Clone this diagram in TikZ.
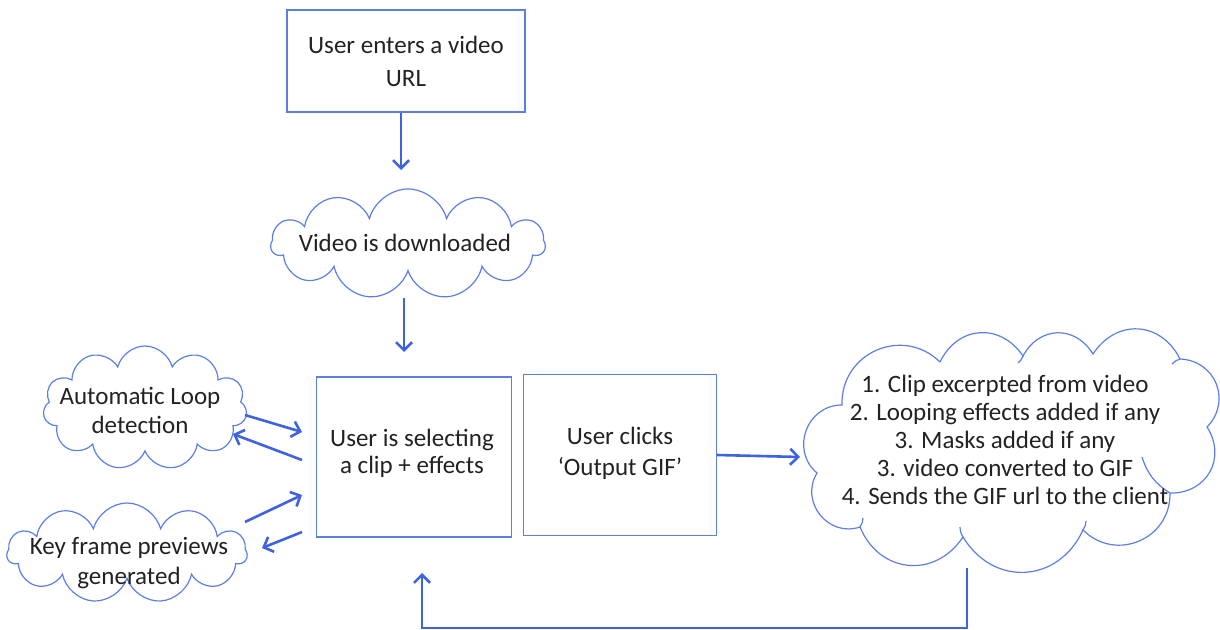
\documentclass[tikz,border=0pt]{standalone}
\usepackage{fontspec}
\setmainfont{Carlito}
\usetikzlibrary{shapes.symbols,arrows.meta}
\definecolor{edge}{HTML}{5B7FE6}
\definecolor{arr}{HTML}{3F63E0}
\definecolor{txt}{HTML}{222222}
\tikzset{
  box/.style={draw=edge, line width=0.6pt, align=center, text=txt, font=\fontsize{12.5}{14.5}\selectfont},
  cloudbox/.style={cloud, cloud puffs=11, cloud ignores aspect, draw=edge, line width=0.6pt, inner sep=0pt},
  outline/.style={draw=edge, line width=0.6pt},
  puff/.style={bend right=#1, looseness=1.25},
  label/.style={align=center, text=txt, inner sep=0pt},
  flow/.style={draw=arr, line width=1.3pt, -{Straight Barb[length=4pt,width=8pt,line width=1.3pt]}},
}
\begin{document}
\begin{tikzpicture}[x=0.5pt,y=-0.5pt]
\useasboundingbox (0,0) rectangle (1220,630);
\node[box, minimum width=119pt, minimum height=51pt, font=\fontsize{12.5}{16.5}\selectfont] (url) at (406,61) {User enters a video\\URL};
\node[cloudbox, minimum width=137pt, minimum height=55pt] (dl) at (408,244) {};
\node[label, font=\fontsize{12.5}{14.5}\selectfont] (dlt) at (405,243) {Video is downloaded};
\node[box, minimum width=97.5pt, minimum height=80pt] (sel) at (414,457) {};
\node[label, font=\fontsize{12.5}{13.5}\selectfont] (selt) at (412,453) {User is selecting\\a clip + effects};
\node[box, minimum width=96.5pt, minimum height=80.5pt] (out) at (620,455) {};
\node[label, font=\fontsize{12.5}{15.5}\selectfont] (outt) at (620,453) {User clicks\\‘Output GIF’};
% big cloud drawn as puffs
\node[inner sep=0pt, minimum width=205pt, minimum height=108pt] (res) at (1010,452) {};
\draw[outline] (940,362) coordinate (k) to[puff=68] (842,405) coordinate (l)
  to[puff=70] (817,473) coordinate (b)
  to[puff=70] (860,527) coordinate (c)
  to[puff=62] (963,537) coordinate (d)
  to[puff=62] (1083,530) coordinate (e)
  to[puff=68] (1170,493) coordinate (f)
  to[puff=62] (1207,427) coordinate (g)
  to[puff=66] (1180,359) coordinate (h)
  to[puff=60] (1093,354) coordinate (i)
  to[puff=60] (1023,356) coordinate (j)
  to[puff=60] (k);
% inner curls
\draw[outline] (f) to[bend left=20] (1142,457);
\draw[outline] (d) to[bend left=15] (960,527);
\draw[outline] (c) to[bend right=15] (863,518);
\draw[outline] (e) to[bend right=15] (1086,521);
\draw[outline] (j) to[bend left=15] (1018,363);
\draw[outline] (h) to[bend right=15] (1172,364);
\node[label, font=\fontsize{12.5}{14}\selectfont] (rest) at (1005,440) {1. Clip excerpted from video\\2. Looping effects added if any\\3. Masks added if any\\3. video converted to GIF\\4. Sends the GIF url to the client};
\node[cloudbox, minimum width=102pt, minimum height=62pt] (loop) at (145,408) {};
\node[label, font=\fontsize{12.5}{14.5}\selectfont] (loopt) at (140,410) {Automatic Loop\\detection};
\node[cloudbox, minimum width=120pt, minimum height=50pt] (key) at (127,553) {};
\node[label, font=\fontsize{12.5}{15}\selectfont] (keyt) at (129,563) {Key frame previews\\generated};

\draw[flow] (url.south -| 401,0) -- (401,170) coordinate (dltop);
\draw[flow] (404,298) coordinate (dlbot) -- (404,352) coordinate (selin);
\draw[flow] (out.east) -- (800,457) coordinate (resin);

\coordinate (a1) at (245,415); \coordinate (a2) at (302,432);
\coordinate (b1) at (302,460); \coordinate (b2) at (233,434);
\coordinate (c1) at (245,522); \coordinate (c2) at (302,495);
\coordinate (d1) at (302,532); \coordinate (d2) at (262,548);
\draw[flow] (a1) -- (a2);
\draw[flow] (b1) -- (b2);
\draw[flow] (c1) -- (c2);
\draw[flow] (d1) -- (d2);

\coordinate (r1) at (967,568);
\coordinate (r2) at (422,573);
\draw[flow] (r1) -- (967,628) -- (422,628) -- (r2);
\end{tikzpicture}
\end{document}
